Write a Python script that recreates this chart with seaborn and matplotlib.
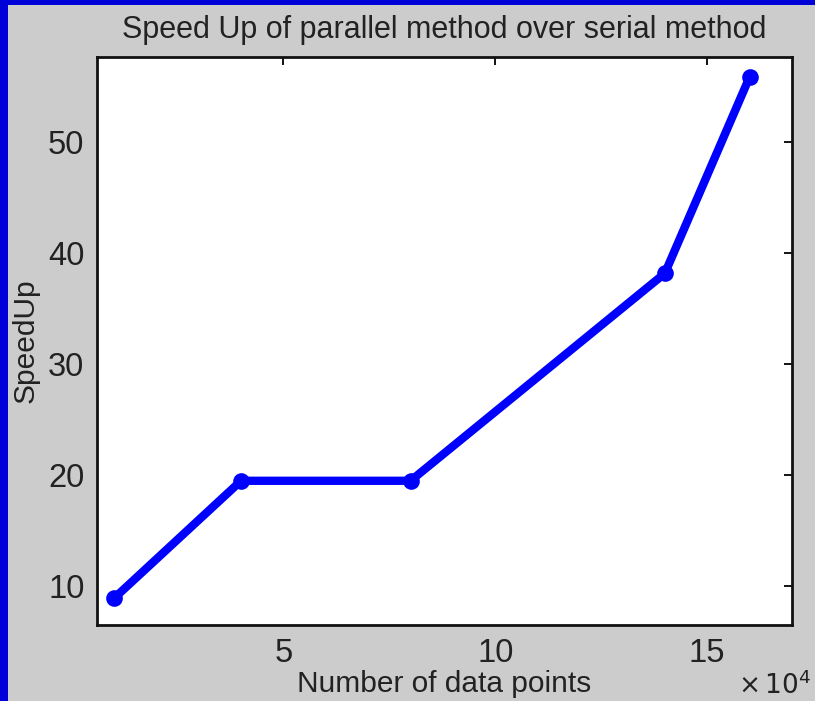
import numpy as np
import pandas as pd
import matplotlib
matplotlib.use('Agg')
import matplotlib.pyplot as plt
import seaborn as sns

# Data (x in units of 10^4 data points)
data_points = [1, 4, 8, 14, 16]
speedup = [8.9, 19.5, 19.5, 38.2, 55.9]

x_ticks = [5, 10, 15]
y_ticks = [10, 20, 30, 40, 50]

sns.set_style('white')
plt.rcParams['font.family'] = ['Liberation Sans', 'DejaVu Sans']

df = pd.DataFrame({'points': data_points, 'speedup': speedup})

fig = plt.figure(figsize=(8.15, 7.01), dpi=100)
fig.patch.set_facecolor('#0000d8')
# gray panel inside the blue frame (blue only on the left and top)
fig.patches.append(plt.Rectangle((8 / 815, -0.01), 1.0, 1 - 5 / 701 + 0.01,
                                 transform=fig.transFigure, facecolor='#cccccc',
                                 edgecolor='none', zorder=-5))

ax = fig.add_axes([97 / 815, 1 - 625 / 701, (792 - 97) / 815, (625 - 57) / 701])
ax.set_facecolor('white')

sns.lineplot(data=df, x='points', y='speedup', ax=ax, color='#0000ff',
             linewidth=6, marker='o', markersize=12, markeredgewidth=0)

ax.set_xlim(0.6, 17)
ax.set_ylim(6.5, 57.7)
ax.set_xticks(x_ticks)
ax.set_yticks(y_ticks)
ax.tick_params(direction='in', length=6, width=1.3, labelsize=23.5, colors='black',
               top=True, right=True, pad=9)
ax.tick_params(labelcolor='#222222')
for s in ax.spines.values():
    s.set_visible(True)
    s.set_color('#111111')
    s.set_linewidth(2)

ax.set_title('Speed Up of parallel method over serial method', fontsize=22, pad=14,
             color='#222222')
ax.set_xlabel('Number of data points', fontsize=21.5, labelpad=1, color='#222222')
ax.set_ylabel('SpeedUp', fontsize=21.5, labelpad=6, color='#222222')
fig.text(738 / 815, 1 - 699 / 701, r'$\times\,10^4$', fontsize=19, color='#222222',
         ha='left', va='bottom')

fig.savefig('out.png', dpi=100, facecolor=fig.get_facecolor())
